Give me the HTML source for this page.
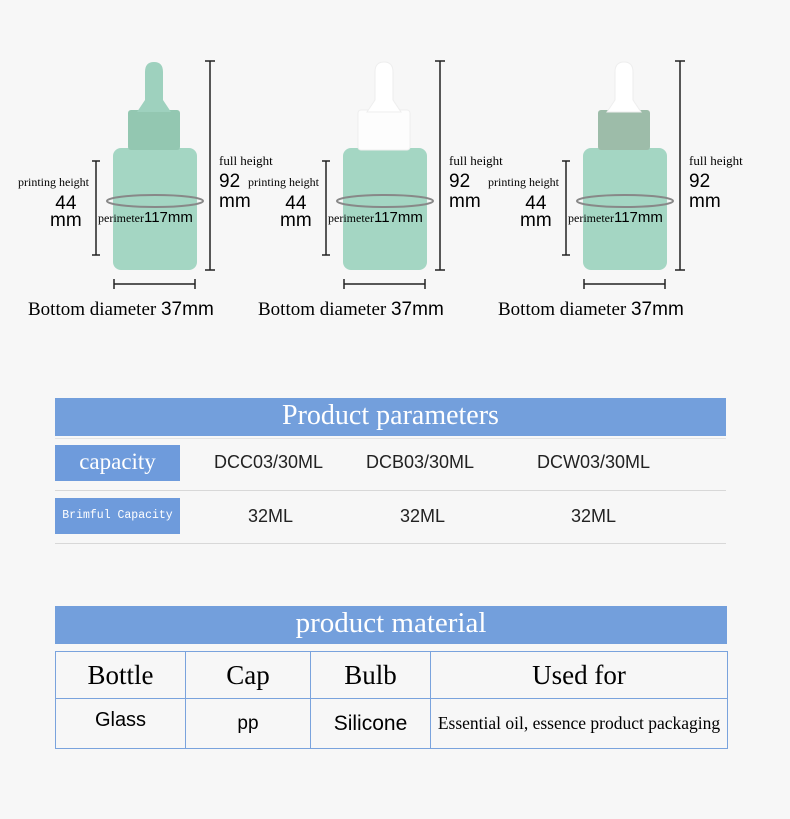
<!DOCTYPE html>
<html><head><style>
body{margin:0;width:790px;height:819px;background:#f7f7f7;position:relative;overflow:hidden;font-family:"Liberation Serif",serif;}
.a{position:absolute;}
.s{font-family:"Liberation Sans",sans-serif;}
.hdr{position:absolute;background:#739fdc;color:#fff;text-align:center;}
.lab{position:absolute;background:#6e9bdc;color:#fff;text-align:center;}
.ln{position:absolute;background:#d8d8d8;height:1px;}
td{border:1px solid #7aa3dd;text-align:center;padding:0;}
</style></head><body>
<svg class="a" style="left:0;top:0" width="790" height="340">
<defs>
<g id="dim">
<line x1="210" y1="61" x2="210" y2="270" stroke="#222" stroke-width="1.5"/>
<line x1="205" y1="61" x2="215" y2="61" stroke="#222" stroke-width="1.5"/>
<line x1="205" y1="270" x2="215" y2="270" stroke="#222" stroke-width="1.5"/>
<line x1="96" y1="161" x2="96" y2="255" stroke="#222" stroke-width="1.5"/>
<line x1="92" y1="161" x2="100" y2="161" stroke="#222" stroke-width="1.5"/>
<line x1="92" y1="255" x2="100" y2="255" stroke="#222" stroke-width="1.5"/>
<line x1="114" y1="284" x2="195" y2="284" stroke="#222" stroke-width="1.5"/>
<line x1="114" y1="279" x2="114" y2="289" stroke="#222" stroke-width="1.5"/>
<line x1="195" y1="279" x2="195" y2="289" stroke="#222" stroke-width="1.5"/>
</g>
</defs>
<rect x="113" y="148" width="84" height="122" rx="8" fill="#a4d6c3"/>
<rect x="128" y="110" width="52" height="40" rx="3" fill="#93c7b1"/>
<path d="M137 112 L145 100 L145 72 Q145 62 154 62 Q163 62 163 72 L163 100 L171 112 Z" fill="#9ed1be"/>
<ellipse cx="155" cy="201" rx="48" ry="6" fill="none" stroke="#888" stroke-width="2"/>
<use href="#dim"/>
<rect x="343" y="148" width="84" height="122" rx="8" fill="#a4d6c3"/>
<rect x="358" y="110" width="52" height="40" rx="3" fill="#fdfdfd" stroke="#eee"/>
<path d="M367 112 L375 100 L375 72 Q375 62 384 62 Q393 62 393 72 L393 100 L401 112 Z" fill="#fff" stroke="#eee"/>
<ellipse cx="385" cy="201" rx="48" ry="6" fill="none" stroke="#888" stroke-width="2"/>
<use href="#dim" transform="translate(230,0)"/>
<rect x="583" y="148" width="84" height="122" rx="8" fill="#a4d6c3"/>
<rect x="598" y="110" width="52" height="40" rx="3" fill="#9dbca9"/>
<path d="M607 112 L615 100 L615 72 Q615 62 624 62 Q633 62 633 72 L633 100 L641 112 Z" fill="#fff" stroke="#eee"/>
<ellipse cx="625" cy="201" rx="48" ry="6" fill="none" stroke="#888" stroke-width="2"/>
<use href="#dim" transform="translate(470,0)"/>
</svg>

<div class="a" style="left:0;top:0;width:790px;height:340px">
<div class="a" style="left:219px;top:153px;font-size:13px">full height</div>
<div class="a s" style="left:219px;top:172px;font-size:19px;line-height:20px">92<br>mm</div>
<div class="a" style="left:18px;top:175px;font-size:12px">printing height</div>
<div class="a s" style="left:50px;top:195px;font-size:19px;line-height:17px;text-align:center">44<br>mm</div>
<div class="a" style="left:98px;top:209px;font-size:12px">perimeter<span class="s" style="font-size:15px">117mm</span></div>
<div class="a" style="left:28px;top:299px;font-size:19px">Bottom diameter <span class="s">37mm</span></div>

<div class="a" style="left:449px;top:153px;font-size:13px">full height</div>
<div class="a s" style="left:449px;top:172px;font-size:19px;line-height:20px">92<br>mm</div>
<div class="a" style="left:248px;top:175px;font-size:12px">printing height</div>
<div class="a s" style="left:280px;top:195px;font-size:19px;line-height:17px;text-align:center">44<br>mm</div>
<div class="a" style="left:328px;top:209px;font-size:12px">perimeter<span class="s" style="font-size:15px">117mm</span></div>
<div class="a" style="left:258px;top:299px;font-size:19px">Bottom diameter <span class="s">37mm</span></div>

<div class="a" style="left:689px;top:153px;font-size:13px">full height</div>
<div class="a s" style="left:689px;top:172px;font-size:19px;line-height:20px">92<br>mm</div>
<div class="a" style="left:488px;top:175px;font-size:12px">printing height</div>
<div class="a s" style="left:520px;top:195px;font-size:19px;line-height:17px;text-align:center">44<br>mm</div>
<div class="a" style="left:568px;top:209px;font-size:12px">perimeter<span class="s" style="font-size:15px">117mm</span></div>
<div class="a" style="left:498px;top:299px;font-size:19px">Bottom diameter <span class="s">37mm</span></div>
</div>

<div class="hdr" style="left:55px;top:398px;width:671px;height:38px;font-size:28px;line-height:36px">Product parameters</div>
<div class="ln" style="left:55px;top:438px;width:671px;background:#e4e4e4"></div>
<div class="lab" style="left:55px;top:445px;width:125px;height:36px;font-size:23px;line-height:34px">capacity</div>
<div class="a s" style="left:214px;top:452px;font-size:18px;color:#222">DCC03/30ML</div>
<div class="a s" style="left:366px;top:452px;font-size:18px;color:#222">DCB03/30ML</div>
<div class="a s" style="left:537px;top:452px;font-size:18px;color:#222">DCW03/30ML</div>
<div class="ln" style="left:55px;top:490px;width:671px"></div>
<div class="lab" style="left:55px;top:498px;width:125px;height:36px;font-size:11.5px;line-height:36px;font-family:'Liberation Mono',monospace">Brimful Capacity</div>
<div class="a s" style="left:248px;top:506px;font-size:18px;color:#222">32ML</div>
<div class="a s" style="left:400px;top:506px;font-size:18px;color:#222">32ML</div>
<div class="a s" style="left:571px;top:506px;font-size:18px;color:#222">32ML</div>
<div class="ln" style="left:55px;top:543px;width:671px"></div>

<div class="hdr" style="left:55px;top:606px;width:672px;height:38px;font-size:29px;line-height:35px">product material</div>
<table class="a" style="left:55px;top:651px;width:673px;height:98px;border-collapse:collapse">
<tr style="height:47px;font-size:27px"><td style="width:129px">Bottle</td><td style="width:124px">Cap</td><td style="width:119px">Bulb</td><td>Used for</td></tr>
<tr style="height:50px"><td class="s" style="font-size:20px;vertical-align:top;padding-top:10px">Glass</td><td class="s" style="font-size:19px">pp</td><td class="s" style="font-size:21px">Silicone</td><td style="font-size:17.5px;white-space:nowrap">Essential oil, essence product packaging</td></tr>
</table>
</body></html>
